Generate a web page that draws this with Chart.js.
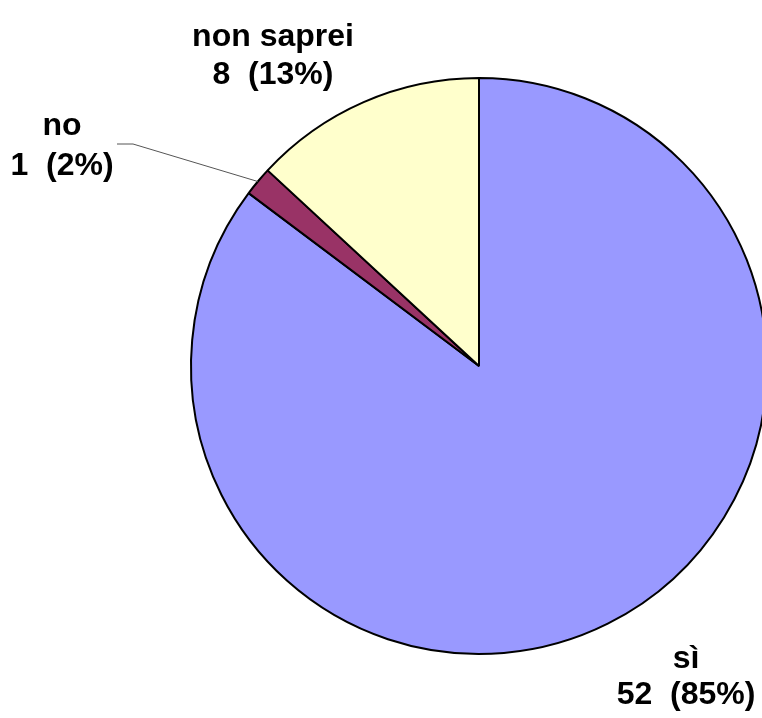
<!DOCTYPE html>
<html>
<head>
<meta charset="utf-8">
<script src="https://cdn.jsdelivr.net/npm/chart.js@4"></script>
<style>
html,body{margin:0;padding:0;background:#fff;overflow:hidden;width:762px;height:718px;}
#wrap{position:absolute;left:0;top:0;width:958px;height:718px;}
</style>
</head>
<body>
<div id="wrap"><canvas id="c" width="958" height="718"></canvas></div>
<script>
const categories = ["sì", "no", "non saprei"];
const counts = [52, 1, 8];
const percentLabels = ["85%", "2%", "13%"];
const colors = ["#9999FF", "#993366", "#FFFFCC"];
// label placement relative to pie centre (dx, baseline dy line1, line2)
const labelOffsets = [[207, -0, 0], [-417, 0, 0], [-206, 0, 0]];
const labelDy = [[302, 338], [-231, -191], [-320, -282]];

const labelPlugin = {
  id: 'pieLabels',
  afterDatasetsDraw(chart) {
    const ctx = chart.ctx;
    const meta = chart.getDatasetMeta(0);
    ctx.save();
    ctx.font = 'bold 32px "Liberation Sans", Arial, sans-serif';
    ctx.fillStyle = '#000';
    ctx.textAlign = 'center';
    ctx.textBaseline = 'alphabetic';
    meta.data.forEach((arc, i) => {
      const cx = arc.x, cy = arc.y;
      const lx = cx + labelOffsets[i][0];
      const y1 = cy + labelDy[i][0];
      const y2 = cy + labelDy[i][1];
      ctx.fillText(categories[i], lx, y1);
      ctx.fillText(counts[i] + '  (' + percentLabels[i] + ')', lx, y2);
      if (i === 1) {
        const mid = (arc.startAngle + arc.endAngle) / 2;
        const ex = cx + Math.cos(mid) * arc.outerRadius;
        const ey = cy + Math.sin(mid) * arc.outerRadius;
        const sx = lx + 55, sy = y1 + 9;
        ctx.strokeStyle = '#555';
        ctx.lineWidth = 1;
        ctx.beginPath();
        ctx.moveTo(sx, sy);
        ctx.lineTo(sx + 16, sy);
        ctx.lineTo(ex, ey);
        ctx.stroke();
      }
    });
    ctx.restore();
  }
};

new Chart(document.getElementById('c'), {
  type: 'pie',
  data: {
    labels: categories,
    datasets: [{
      data: counts,
      backgroundColor: colors,
      borderColor: '#000',
      borderWidth: 2
    }]
  },
  options: {
    responsive: false,
    animation: false,
    devicePixelRatio: 1,
    layout: { padding: { top: 77, bottom: 63, left: 0, right: 0 } },
    plugins: { legend: { display: false }, tooltip: { enabled: false } }
  },
  plugins: [labelPlugin]
});
</script>
</body>
</html>
